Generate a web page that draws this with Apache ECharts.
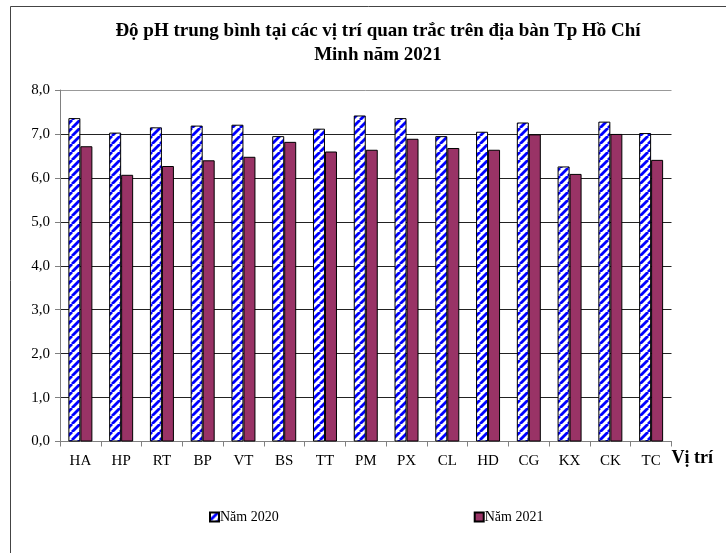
<!DOCTYPE html>
<html>
<head>
<meta charset="utf-8">
<script src="https://cdn.jsdelivr.net/npm/echarts@6/dist/echarts.min.js"></script>
<style>html,body{margin:0;padding:0;background:#fff}#c{width:726px;height:553px}</style>
</head>
<body>
<div id="c"></div>
<script>
const categories = ['HA','HP','RT','BP','VT','BS','TT','PM','PX','CL','HD','CG','KX','CK','TC'];
const values2020 = [7.36,7.03,7.15,7.19,7.21,6.95,7.12,7.42,7.36,6.95,7.05,7.26,6.26,7.28,7.02];
const values2021 = [6.72,6.07,6.27,6.40,6.48,6.82,6.60,6.64,6.89,6.68,6.64,6.99,6.09,7.00,6.41];
const yTicks = [0,1,2,3,4,5,6,7,8];

function stripePattern(){
  const s = 8;
  const c = document.createElement('canvas');
  c.width = s; c.height = s;
  const g = c.getContext('2d');
  g.fillStyle = '#fff'; g.fillRect(0,0,s,s);
  g.strokeStyle = '#0000ff'; g.lineWidth = 2.8;
  for (const k of [-s,0,s]) { g.beginPath(); g.moveTo(k,s); g.lineTo(k+s,0); g.stroke(); }
  return c;
}

const serif = '"Liberation Serif","Times New Roman",serif';
const chart = echarts.init(document.getElementById('c'), null, {renderer:'canvas'});
chart.setOption({
  animation:false,
  backgroundColor:'#fff',
  graphic:[{type:'rect', shape:{x:10.5,y:6.5,width:800,height:700}, style:{fill:'none',stroke:'#444',lineWidth:1}, silent:true}],
  title:{
    text:'Độ pH trung bình tại các vị trí quan trắc trên địa bàn Tp Hồ Chí\nMinh năm 2021',
    left:373, top:14, textAlign:'center',
    textStyle:{fontFamily:serif, fontWeight:'bold', fontSize:19, lineHeight:24, color:'#000'}
  },
  legend:{
    left:204, top:505, itemWidth:9, itemHeight:9, itemGap:195, icon:'rect',
    textStyle:{fontFamily:serif, fontSize:14, color:'#000', padding:[0,0,0,-4]},
    data:['Năm 2020','Năm 2021']
  },
  grid:{left:60, right:54.5, top:90, bottom:111.5, containLabel:false},
  xAxis:{
    type:'category', data:categories, boundaryGap:true,
    name:'Vị trí', nameLocation:'end', nameGap:0,
    nameTextStyle:{fontFamily:serif, fontWeight:'bold', fontSize:18, color:'#000', verticalAlign:'top', padding:[8,0,0,0]},
    axisLine:{lineStyle:{color:'#808080', width:1}},
    axisTick:{show:true, length:5, lineStyle:{color:'#808080'}},
    axisLabel:{fontFamily:serif, fontSize:15, color:'#000', margin:12}
  },
  yAxis:{
    type:'value', min:yTicks[0], max:yTicks[yTicks.length-1], interval:1,
    axisLine:{show:true, lineStyle:{color:'#808080'}},
    axisTick:{show:true, length:5, lineStyle:{color:'#808080'}},
    axisLabel:{fontFamily:serif, fontSize:15, color:'#000', margin:10, formatter:v=>v.toFixed(1).replace('.',',')},
    splitLine:{show:true, lineStyle:{color:['#222','#222','#222','#222','#222','#222','#222','#222','#999'], width:1}}
  },
  series:[
    {name:'Năm 2020', type:'bar', data:values2020, barWidth:12, barGap:'0%',
     itemStyle:{color:{image:stripePattern(), repeat:'repeat'}, borderColor:'#000', borderWidth:1}},
    {name:'Năm 2021', type:'bar', data:values2021, barWidth:12, barGap:'0%',
     itemStyle:{color:'#993366', borderColor:'#000', borderWidth:1}}
  ]
});
</script>
</body>
</html>
